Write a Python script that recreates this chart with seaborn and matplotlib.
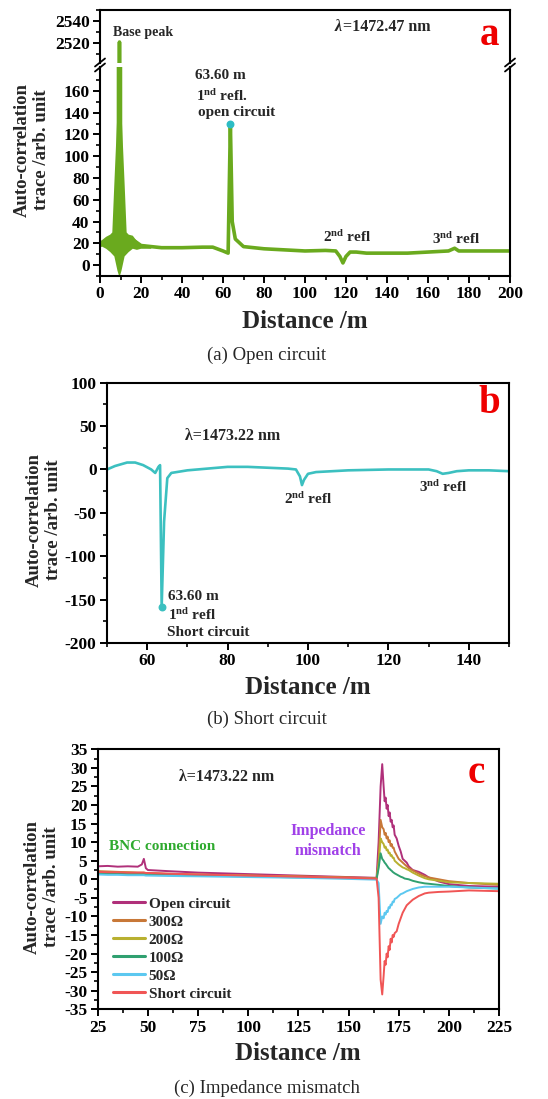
import numpy as np
import pandas as pd
import matplotlib
matplotlib.use("Agg")
import matplotlib.pyplot as plt
from matplotlib.lines import Line2D
from matplotlib.ticker import MultipleLocator, FixedLocator
import seaborn as sns

# ---------------- data ----------------
# Panel a (open circuit)
dist_a = [0, 2, 4, 6, 8, 9, 9.5, 10, 11, 13, 15, 17, 20, 25, 30, 40, 50, 55, 60, 62.5,
          63.6, 64.5, 66, 70, 80, 90, 100, 110, 115, 117, 118.5, 120, 122, 125, 130,
          140, 150, 160, 170, 173, 175, 180, 190, 200]
trace_a = [20, 20, 22, 24, 26, 60, 2521, 60, 26, 25, 24, 22, 18, 17, 16, 16, 16.5, 16.5, 13, 11,
           130, 40, 24, 17, 15, 14, 13, 13.5, 13, 8, 2, 8, 12, 12, 11,
           11, 11, 12, 13, 15.5, 13, 13, 13, 13]
band_a_x = [0, 1, 3, 5, 6, 7, 8.5, 9.3, 9.5, 9.7, 10.5, 12, 13, 14, 16, 18, 20, 25]
band_a_hi = [22, 23, 26, 28, 30, 75, 140, 175, 2521, 175, 140, 75, 30, 28, 27, 22, 19, 18]
band_a_lo = [16, 17, 15, 12, 10, 8, -5, -10, -10, -10, -5, 8, 10, 12, 15, 14, 15, 15]
peak_a = (63.6, 130)

# Panel b (short circuit)
dist_b = [50, 52, 55, 57, 59, 61, 62, 62.8, 63.2, 63.6, 64.2, 65, 66, 70, 75, 80, 85, 90,
          95, 97, 98, 98.5, 99, 100, 102, 110, 120, 130, 132, 133.5, 135, 137, 140, 145, 150]
trace_b = [0, 4, 8, 8, 5, 0, -4, 3, 5, -158, -60, -10, -4, -1, 1, 3, 3, 2,
           1, 0, -8, -18, -12, -5, -3, -1, 0, 0, -2, -5, -4, -2, -1, -1, -2]
peak_b = (63.6, -158)

# Panel c (impedance mismatch)
dist_c = [25, 30, 35, 40, 45, 47, 48, 49, 50, 60, 75, 100, 125, 150, 164,
          165, 166, 166.8, 167.5, 168, 168.5, 169, 169.5, 170, 170.5, 171, 171.5, 172, 172.5, 173,
          174, 175, 176, 177, 178, 179, 180, 182, 185, 188, 190, 195, 200, 210, 225]
open_c = [3.5, 3.6, 3.4, 3.5, 3.4, 4.0, 5.5, 3.0, 2.5, 2.2, 1.8, 1.4, 1.0, 0.6, 0.4,
          10, 25, 31, 25, 21, 22, 19, 20, 17, 18, 15.5, 16, 14, 14.5, 12,
          11, 9, 7.5, 5.5, 5, 4.5, 3.5, 2.5, 2, 1.2, 0.5, -0.6, -1.3, -1.8, -2]
r300_c = [2.2, 2.1, 2.0, 1.9, 1.8, 1.8, 1.8, 1.7, 1.7, 1.5, 1.3, 1.0, 0.8, 0.5, 0.3,
          5, 16, 14, 13.5, 12, 12.5, 11, 11.5, 10, 10.5, 9, 9.5, 8.5, 8.5, 7.5,
          6.5, 5.5, 5, 4.5, 4, 3.5, 3, 2.4, 1.5, 0.8, 0.5, 0, -0.5, -1, -1.5]
r200_c = [2.0, 1.9, 1.8, 1.8, 1.7, 1.7, 1.7, 1.6, 1.6, 1.4, 1.2, 1.0, 0.7, 0.4, 0.2,
          4, 11, 10, 9.5, 8.5, 8.8, 7.8, 8, 7, 7.2, 6.3, 6.5, 5.8, 5.8, 5,
          4.5, 4, 3.6, 3.2, 3, 2.7, 2.5, 1.8, 1, 0.3, 0, -0.4, -0.8, -1, -1.2]
r100_c = [1.6, 1.5, 1.5, 1.4, 1.4, 1.4, 1.4, 1.3, 1.3, 1.2, 1.0, 0.8, 0.5, 0.3, 0.1,
          3, 7, 5.5, 5, 4.5, 4.2, 3.8, 3.4, 3, 2.8, 2.5, 2.3, 2, 1.8, 1.6,
          1.3, 1, 0.7, 0.5, 0.2, 0.1, 0, -0.4, -0.8, -1.1, -1.2, -1.5, -1.8, -2.2, -2.5]
r50_c = [1.3, 1.2, 1.2, 1.1, 1.1, 1.1, 1.1, 1.0, 1.0, 0.9, 0.8, 0.6, 0.4, 0.1, -0.1,
         -1, -12, -10, -10.5, -9, -9.5, -8.5, -8.8, -7.5, -7.8, -6.8, -7, -6, -6.2, -5.3,
         -5, -4.5, -4, -3.8, -3.5, -3.2, -3, -2.6, -2.2, -2, -2, -2, -2, -2.2, -2.5]
short_c = [2.0, 1.9, 1.9, 1.8, 1.8, 1.8, 1.8, 1.7, 1.7, 1.5, 1.3, 1.0, 0.7, 0.4, 0.2,
           -5, -27, -31, -26, -22, -23, -20, -21, -18, -19, -16, -17, -15, -15.5, -14.5,
           -14, -12, -10.5, -9, -8, -7, -6.5, -5.5, -4.5, -3.8, -3.6, -3.4, -3.3, -3, -3.2]
series_c = ["Open circuit", "300Ω", "200Ω", "100Ω", "50Ω", "Short circuit"]
values_c = [open_c, r300_c, r200_c, r100_c, r50_c, short_c]
colors_c = ["#b0307a", "#c87838", "#b8b030", "#30a070", "#5cc8f0", "#f05555"]

# ---------------- style ----------------
sns.set_style("ticks")
plt.rcParams.update({
    "font.family": ["Liberation Serif", "DejaVu Serif"],
    "font.weight": "bold",
    "axes.labelweight": "bold",
    "axes.unicode_minus": False,
    "mathtext.fontset": "custom",
    "mathtext.rm": "Liberation Serif:bold",
    "mathtext.bf": "Liberation Serif:bold",
    "mathtext.it": "Liberation Serif:bold:italic",
    "mathtext.default": "rm",
    "axes.edgecolor": "black",
    "axes.linewidth": 1.5,
    "xtick.color": "black",
    "ytick.color": "black",
})

W, H = 548, 1099
fig = plt.figure(figsize=(W / 100, H / 100), dpi=100)


def rect(l, t, r, b):
    return [l / W, 1 - b / H, (r - l) / W, (b - t) / H]


def style(ax, xmaj, xmin, ymaj, ymin):
    ax.xaxis.set_major_locator(MultipleLocator(xmaj))
    ax.xaxis.set_minor_locator(MultipleLocator(xmin))
    ax.yaxis.set_major_locator(MultipleLocator(ymaj))
    ax.yaxis.set_minor_locator(MultipleLocator(ymin))
    ax.tick_params(which="major", direction="out", length=5, width=1.4, labelsize=12.5,
                   top=False, right=False, pad=2.5)
    ax.tick_params(which="minor", direction="out", length=3, width=1.2, top=False, right=False)
    for lab in ax.get_xticklabels() + ax.get_yticklabels():
        lab.set_fontweight("bold")
    ax.set_xlabel("")
    ax.set_ylabel("")


green = "#6aaa1e"
cyan = "#2cbcc4"
cyan_b = "#3cc0c0"

# ---------- panel a ----------
ax_at = fig.add_axes(rect(100, 10, 510, 63))
ax_a = fig.add_axes(rect(100, 67, 510, 276))
for ax in (ax_at, ax_a):
    ax.fill_between(band_a_x, band_a_lo, band_a_hi, color=green, lw=0)
    sns.lineplot(x=dist_a, y=trace_a, ax=ax, color=green, lw=2.6, sort=False)
    ax.set_xlim(0, 200)
ax_at.set_ylim(2502, 2550)
ax_a.set_ylim(-10, 182)
style(ax_a, 20, 10, 20, 10)
style(ax_at, 20, 10, 20, 10)
ax_a.yaxis.set_major_locator(FixedLocator([0, 20, 40, 60, 80, 100, 120, 140, 160]))
ax_a.yaxis.set_minor_locator(FixedLocator([-10, 10, 30, 50, 70, 90, 110, 130, 150, 170]))
ax_at.spines["bottom"].set_visible(False)
ax_a.spines["top"].set_visible(False)
ax_at.tick_params(axis="x", which="both", bottom=False, labelbottom=False)
ax_at.set_yticks([2520, 2540])
ax_a.scatter([peak_a[0]], [peak_a[1]], s=22, color=cyan, zorder=5)

# break marks
for xp in (100, 510):
    for dy in (-2.5, 2.5):
        y0 = 65 + dy
        fig.add_artist(Line2D([(xp - 5) / W, (xp + 5) / W],
                              [1 - (y0 + 4) / H, 1 - (y0 - 4) / H],
                              color="black", lw=1.3))

ax_at.text(21, 2530, "Base peak", ha="center", va="center", fontsize=10)
ax_at.text(118, 2535, "λ", ha="right", va="center", fontsize=11.5, style="italic")
ax_at.text(118.3, 2535, "=1472.47 nm", ha="left", va="center", fontsize=11.5)
ax_at.text(190, 2527, "a", ha="center", va="center", fontsize=28, color="#ee0000")
ax_a.text(58.5, 174, "63.60 m", ha="center", va="center", fontsize=11)
ax_a.text(59.5, 155, "1$^{nd}$ refl.", ha="center", va="center", fontsize=11)
ax_a.text(66.8, 140, "open circuit", ha="center", va="center", fontsize=11)
ax_a.text(120.5, 26, "2$^{nd}$ refl", ha="center", va="center", fontsize=11)
ax_a.text(173.7, 24, "3$^{nd}$ refl", ha="center", va="center", fontsize=11)

fig.text(32 / W, 1 - 150 / H, "Auto-correlation\ntrace /arb. unit", rotation=90,
         ha="center", va="center", fontsize=13.5, fontweight="bold", linespacing=1.2)
fig.text(305 / W, 1 - 322 / H, "Distance /m", ha="center", va="center", fontsize=18,
         fontweight="bold")
fig.text(267 / W, 1 - 355 / H, "(a) Open circuit", ha="center", va="center", fontsize=13.5,
         fontweight="normal")

# ---------- panel b ----------
ax_b = fig.add_axes(rect(107, 382.7, 509, 643))
sns.lineplot(x=dist_b, y=trace_b, ax=ax_b, color=cyan_b, lw=1.9, sort=False)
ax_b.scatter([peak_b[0]], [peak_b[1]], s=22, color=cyan_b, zorder=5)
ax_b.set_xlim(50, 150)
ax_b.set_ylim(-200, 100)
style(ax_b, 20, 10, 50, 25)
ax_b.text(81.3, 38, "λ=1473.22 nm", ha="center", va="center", fontsize=11.5)
ax_b.text(145, 76, "b", ha="center", va="center", fontsize=28, color="#ee0000")
ax_b.text(100, -34, "2$^{nd}$ refl", ha="center", va="center", fontsize=11)
ax_b.text(133.6, -20, "3$^{nd}$ refl", ha="center", va="center", fontsize=11)
ax_b.text(65.2, -146, "63.60 m", ha="left", va="center", fontsize=11)
ax_b.text(65.2, -168, "1$^{nd}$ refl", ha="left", va="center", fontsize=11)
ax_b.text(64.9, -188, "Short circuit", ha="left", va="center", fontsize=11)

fig.text(44 / W, 1 - 520 / H, "Auto-correlation\ntrace /arb. unit", rotation=90,
         ha="center", va="center", fontsize=13.5, fontweight="bold", linespacing=1.2)
fig.text(308 / W, 1 - 688 / H, "Distance /m", ha="center", va="center", fontsize=18,
         fontweight="bold")
fig.text(267 / W, 1 - 719 / H, "(b) Short circuit", ha="center", va="center", fontsize=13.5,
         fontweight="normal")

# ---------- panel c ----------
ax_c = fig.add_axes(rect(97.7, 749.3, 499, 1009.3))
for name, vals, col in zip(series_c, values_c, colors_c):
    sns.lineplot(x=dist_c, y=vals, ax=ax_c, color=col, lw=1.4, label=name, sort=False)
ax_c.set_xlim(25, 225)
ax_c.set_ylim(-35, 35)
style(ax_c, 25, 12.5, 5, 2.5)
leg = ax_c.legend(loc="upper left", bbox_to_anchor=(0.022, 0.455), frameon=False,
                  fontsize=11, handlelength=2.1, labelspacing=0.28, handletextpad=0.25,
                  borderaxespad=0)
for t in leg.get_texts():
    t.set_fontweight("bold")
for h in leg.get_lines():
    h.set_linewidth(2.2)
ax_c.text(89.3, 27.6, "λ=1473.22 nm", ha="center", va="center", fontsize=11.5)
ax_c.text(213.9, 28.6, "c", ha="center", va="center", fontsize=28, color="#ee0000")
ax_c.text(57, 8.8, "BNC connection", ha="center", va="center", fontsize=11, color="#2eaa2e")
ax_c.text(139.8, 10.3, "Impedance\nmismatch", ha="center", va="center", fontsize=11.5,
          color="#a040e8", linespacing=1.3)

fig.text(42 / W, 1 - 886.7 / H, "Auto-correlation\ntrace /arb. unit", rotation=90,
         ha="center", va="center", fontsize=13.5, fontweight="bold", linespacing=1.2)
fig.text(298 / W, 1 - 1053 / H, "Distance /m", ha="center", va="center", fontsize=18,
         fontweight="bold")
fig.text(267 / W, 1 - 1088 / H, "(c) Impedance mismatch", ha="center", va="center",
         fontsize=13.5, fontweight="normal")

fig.savefig("out.png", dpi=100)
